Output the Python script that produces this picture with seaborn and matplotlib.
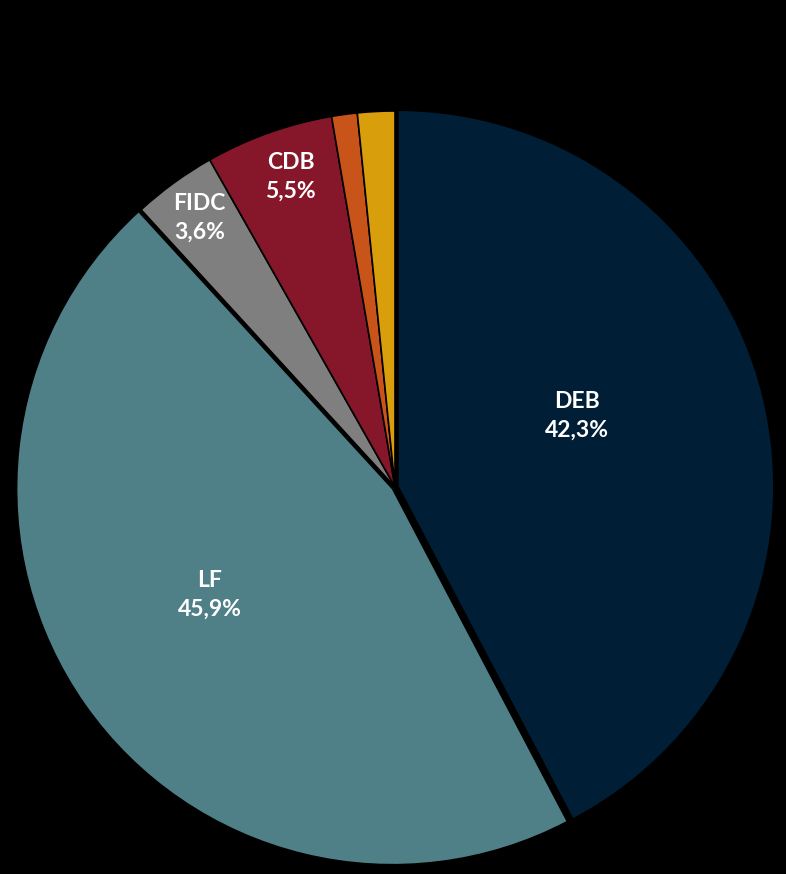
import matplotlib
matplotlib.use("Agg")
import matplotlib.pyplot as plt
import seaborn as sns
import numpy as np

categories = ["DEB", "LF", "FIDC", "CDB", "Outros1", "Outros2"]
values = [42.3, 45.9, 3.6, 5.5, 1.1, 1.6]
labels = ["DEB\n42,3%", "LF\n45,9%", "FIDC\n3,6%", "CDB\n5,5%", "", ""]
colors = ["#001F36", "#4F8087", "#7F7F7F", "#86172A", "#C8541A", "#D99E0B"]

sns.set_theme(style="dark", rc={"figure.facecolor": "black", "axes.facecolor": "black"})
plt.rcParams['font.family'] = ['Lato', 'DejaVu Sans']

fig = plt.figure(figsize=(7.86, 8.74), dpi=100)
fig.patch.set_facecolor("black")
ax = fig.add_axes([0.0242, 0.0126, 0.9567, 0.8604])
ax.set_facecolor("black")

explode = [0.008, 0.008, 0, 0, 0, 0]
wedges, _ = ax.pie(values, colors=colors, startangle=90, counterclock=False,
                   explode=explode,
                   wedgeprops=dict(edgecolor="black", linewidth=1.2))

label_r = [0.52, 0.57, 0.885, 0.87, 0, 0]
angle_off = [7.5, -5.0, 0, -1, 0, 0]
for w, lab, r, off in zip(wedges, labels, label_r, angle_off):
    if not lab:
        continue
    ang = np.deg2rad((w.theta1 + w.theta2) / 2 + off)
    ax.text(r * np.cos(ang), r * np.sin(ang), lab, ha="center", va="center",
            color="white", fontsize=16.5, fontweight="bold", linespacing=1.45)

ax.set_xlim(-1, 1)
ax.set_ylim(-1, 1)
ax.set_aspect("equal")
ax.axis("off")
fig.savefig("out.png", dpi=100, facecolor="black")
